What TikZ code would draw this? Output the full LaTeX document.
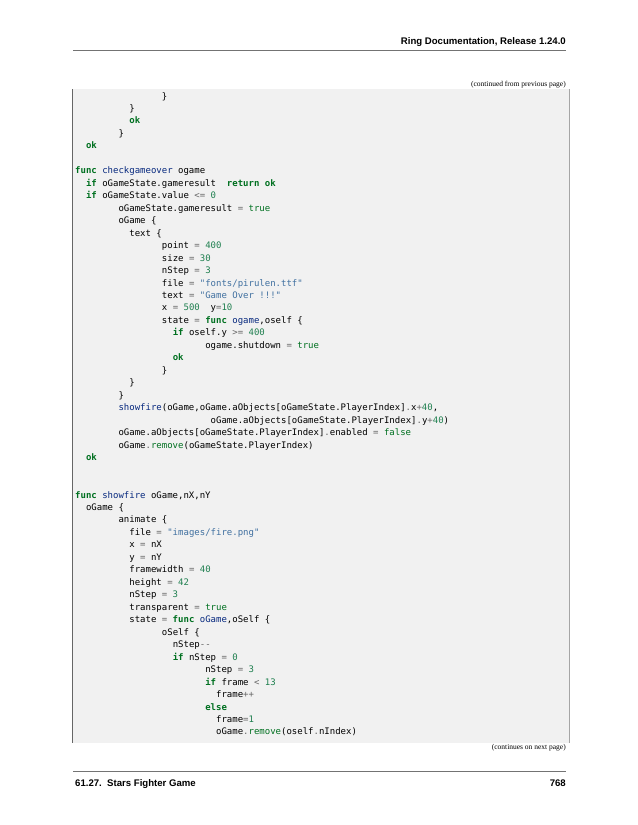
\documentclass[tikz,border=0pt]{standalone}
\usepackage{fontspec}
\setmainfont{Liberation Serif}
\newfontfamily\hdfont{Liberation Sans}
\newfontfamily\codefont[Ligatures=ResetAll]{DejaVu Sans Mono}
\definecolor{kwc}{HTML}{007020}
\definecolor{numc}{HTML}{208050}
\definecolor{strc}{HTML}{4070A0}
\definecolor{opc}{HTML}{666666}
\definecolor{fnc}{HTML}{06287E}
\definecolor{boxbg}{HTML}{F1F1F1}
\newcommand\cK[1]{\textcolor{kwc}{\bfseries #1}}
\newcommand\cT[1]{\textcolor{kwc}{#1}}
\newcommand\cN[1]{\textcolor{numc}{#1}}
\newcommand\cS[1]{\textcolor{strc}{#1}}
\newcommand\cO[1]{\textcolor{opc}{#1}}
\newcommand\cF[1]{\textcolor{fnc}{#1}}
\newcommand\cl[4]{\node[codeline] (#1) at ({75+#3*5.42},{99+(#2-1)*12.47}) {#4};}
\begin{document}
\begin{tikzpicture}[x=1bp,y=-1bp,
  codeline/.style={anchor=base west,inner sep=0pt,font=\codefont\fontsize{9bp}{11bp}\selectfont},
  smallcap/.style={anchor=base east,inner sep=0pt,font=\fontsize{7.5bp}{9bp}\selectfont},
  headtxt/.style={inner sep=0pt,font=\hdfont\bfseries\fontsize{9.6bp}{11bp}\selectfont},
  rulestyle/.style={draw=black!55,line width=0.6bp}]
\useasboundingbox[fill=white] (0,0) rectangle (638,825);
% header
\node[headtxt,anchor=base east] (head) at (566,44) {Ring Documentation, Release 1.24.0};
\coordinate (hl) at (73,50); \coordinate (hr) at (566,50);
\draw[rulestyle] (hl) -- (hr);
\node[smallcap] (cont) at (566,86) {(continued from previous page)};
% code box
\fill[boxbg] (72,89) rectangle (569,743);
\draw[black!60,line width=0.8bp] (72,89) -- (72,743);
\draw[black!35,line width=0.6bp] (569,89) -- (569,743);
% code
\cl{l1}{1}{16}{\}}
\cl{l2}{2}{10}{\}}
\cl{l3}{3}{10}{\cK{ok}}
\cl{l4}{4}{8}{\}}
\cl{l5}{5}{2}{\cK{ok}}
\cl{l7}{7}{0}{\cK{func} \cF{checkgameover} ogame}
\cl{l8}{8}{2}{\cK{if} oGameState.gameresult\ \ \cK{return} \cK{ok}}
\cl{l9}{9}{2}{\cK{if} oGameState.value \cO{<=} \cN{0}}
\cl{l10}{10}{8}{oGameState.gameresult \cO{=} \cT{true}}
\cl{l11}{11}{8}{oGame \{}
\cl{l12}{12}{10}{text \{}
\cl{l13}{13}{16}{point \cO{=} \cN{400}}
\cl{l14}{14}{16}{size \cO{=} \cN{30}}
\cl{l15}{15}{16}{nStep \cO{=} \cN{3}}
\cl{l16}{16}{16}{file \cO{=} \cS{"fonts/pirulen.ttf"}}
\cl{l17}{17}{16}{text \cO{=} \cS{"Game Over !!!"}}
\cl{l18}{18}{16}{x \cO{=} \cN{500}\ \ y\cO{=}\cN{10}}
\cl{l19}{19}{16}{state \cO{=} \cK{func} \cF{ogame},oself \{}
\cl{l20}{20}{18}{\cK{if} oself.y \cO{>=} \cN{400}}
\cl{l21}{21}{24}{ogame.shutdown \cO{=} \cT{true}}
\cl{l22}{22}{18}{\cK{ok}}
\cl{l23}{23}{16}{\}}
\cl{l24}{24}{10}{\}}
\cl{l25}{25}{8}{\}}
\cl{l26}{26}{8}{\cF{showfire}(oGame,oGame.aObjects[oGameState.PlayerIndex]\cO{.}x\cO{+}\cN{40},}
\cl{l27}{27}{25}{oGame.aObjects[oGameState.PlayerIndex]\cO{.}y\cO{+}\cN{40})}
\cl{l28}{28}{8}{oGame.aObjects[oGameState.PlayerIndex]\cO{.}enabled \cO{=} \cT{false}}
\cl{l29}{29}{8}{oGame\cO{.}\cT{remove}(oGameState.PlayerIndex)}
\cl{l30}{30}{2}{\cK{ok}}
\cl{l33}{33}{0}{\cK{func} \cF{showfire} oGame,nX,nY}
\cl{l34}{34}{2}{oGame \{}
\cl{l35}{35}{8}{animate \{}
\cl{l36}{36}{10}{file \cO{=} \cS{"images/fire.png"}}
\cl{l37}{37}{10}{x \cO{=} nX}
\cl{l38}{38}{10}{y \cO{=} nY}
\cl{l39}{39}{10}{framewidth \cO{=} \cN{40}}
\cl{l40}{40}{10}{height \cO{=} \cN{42}}
\cl{l41}{41}{10}{nStep \cO{=} \cN{3}}
\cl{l42}{42}{10}{transparent \cO{=} \cT{true}}
\cl{l43}{43}{10}{state \cO{=} \cK{func} \cF{oGame},oSelf \{}
\cl{l44}{44}{16}{oSelf \{}
\cl{l45}{45}{18}{nStep\cO{-{}-}}
\cl{l46}{46}{18}{\cK{if} nStep \cO{=} \cN{0}}
\cl{l47}{47}{24}{nStep \cO{=} \cN{3}}
\cl{l48}{48}{24}{\cK{if} frame \cO{<} \cN{13}}
\cl{l49}{49}{26}{frame\cO{++}}
\cl{l50}{50}{24}{\cK{else}}
\cl{l51}{51}{26}{frame\cO{=}\cN{1}}
\cl{l52}{52}{26}{oGame\cO{.}\cT{remove}(oself\cO{.}nIndex)}
% footer
\node[smallcap] (next) at (566,749) {(continues on next page)};
\coordinate (fl) at (73,771); \coordinate (fr) at (566,771);
\draw[rulestyle] (fl) -- (fr);
\node[headtxt,anchor=base west] (sect) at (75,786) {61.27.\ \ Stars Fighter Game};
\node[headtxt,anchor=base east] (page) at (566,786) {768};
\end{tikzpicture}
\end{document}
